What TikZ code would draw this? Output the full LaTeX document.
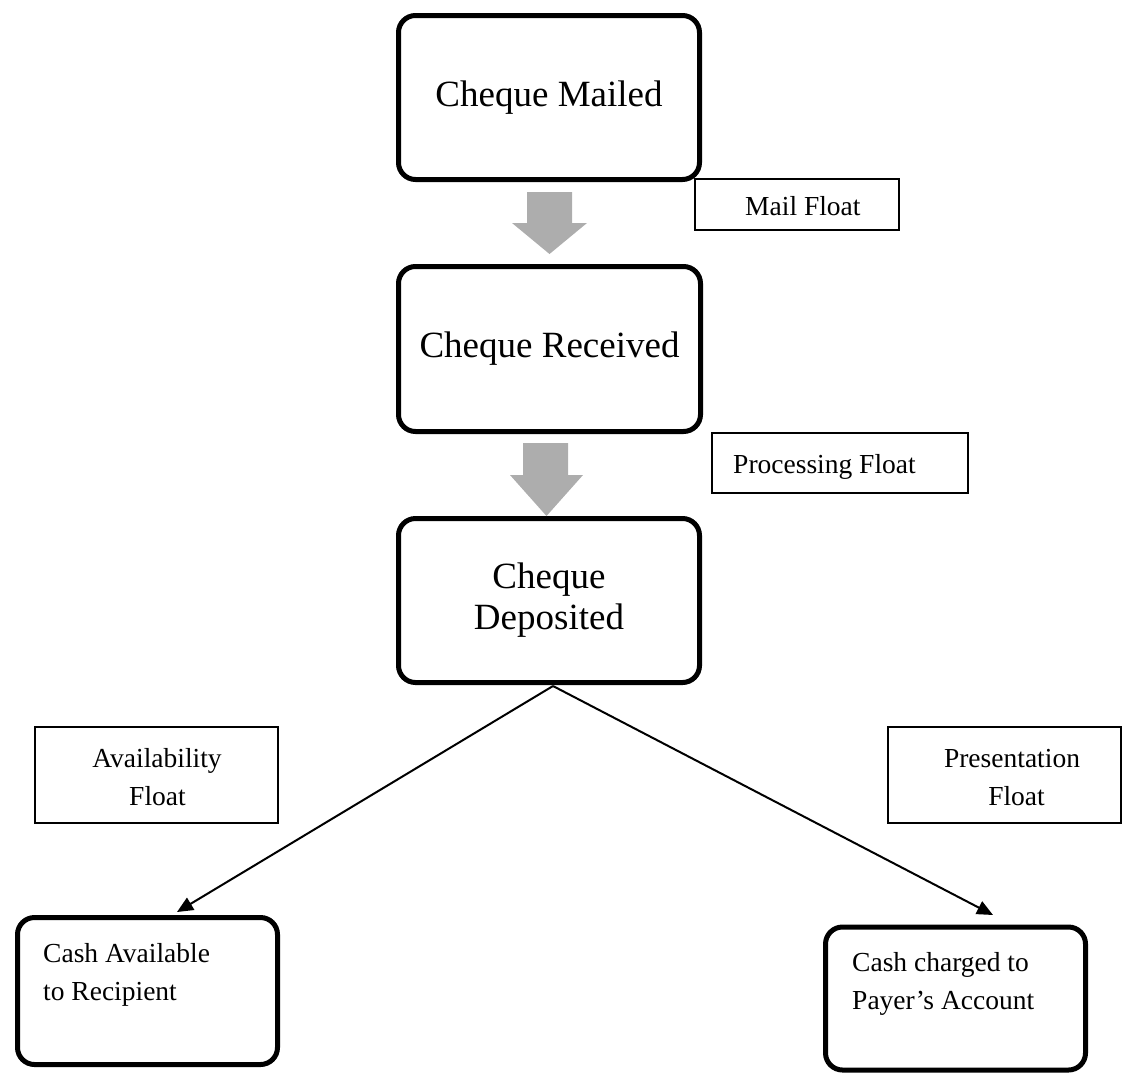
\documentclass[tikz,border=0pt]{standalone}
\usepackage{fontspec}
\setmainfont{Liberation Serif}
\usetikzlibrary{arrows.meta}
\newcommand\bigtxt{\fontsize{37}{40}\selectfont}
\newcommand\smalltxt{\fontsize{27.5}{38}\selectfont}
\begin{document}
\begin{tikzpicture}[x=1pt,y=-1pt,
  stepbox/.style={draw, line width=5pt, rounded corners=17pt, inner sep=0pt, font=\bigtxt, align=center},
  labelbox/.style={draw, line width=1.4pt, inner sep=0pt},
  txt/.style={inner sep=0pt, font=\smalltxt},
  conn/.style={line width=2pt, -{Triangle[length=16pt,width=14pt]}},
  blockarrow/.style={fill=black!32}]
\useasboundingbox (0,0) rectangle (1123,1074);
\clip (0,0) rectangle (1123,1074);

% main steps
\node[stepbox, minimum width=301pt, minimum height=164pt] (mailed) at (549,97.5) {Cheque Mailed};
\node[stepbox, minimum width=302pt, minimum height=165pt] (received) at (549.5,349) {Cheque Received};
\node[stepbox, minimum width=301pt, minimum height=164pt] (deposited) at (549,600.5) {\raisebox{0pt}{Cheque}\\[1pt]Deposited};
\node[stepbox, minimum width=260pt, minimum height=147pt] (cashavail) at (147.5,991) {};
\node[stepbox, minimum width=260pt, minimum height=143pt] (cashchg) at (955.5,998.5) {};

% texts of bottom boxes
\node[txt, anchor=base west] (ca1) at (43,962) {Cash Available};
\node[txt, anchor=base west] (ca2) at (43,1000) {to Recipient};
\node[txt, anchor=base west] (cc1) at (852,971) {Cash charged to};
\node[txt, anchor=base west] (cc2) at (852,1009) {Payer’s Account};

% float labels
\node[labelbox, minimum width=204pt, minimum height=51pt] (mailf) at (797,204.5) {};
\node[txt, anchor=base west] (mailft) at (745,215) {Mail Float};
\node[labelbox, minimum width=256pt, minimum height=60pt] (procf) at (840,463) {};
\node[txt, anchor=base west] (procft) at (733,473) {Processing Float};
\node[labelbox, minimum width=243pt, minimum height=96pt] (availf) at (156.5,775) {};
\node[txt, anchor=base] (availft1) at (157,767) {Availability};
\node[txt, anchor=base] (availft2) at (157.5,805) {Float};
\node[labelbox, minimum width=233pt, minimum height=96pt] (presf) at (1004.5,775) {};
\node[txt, anchor=base] (presft1) at (1012,767) {Presentation};
\node[txt, anchor=base] (presft2) at (1016.5,805) {Float};

% gray block arrows
\fill[blockarrow] (527,192) -- (572,192) -- (572,223) -- (587,223) -- (549.5,254) -- (512,223) -- (527,223) -- cycle;
\fill[blockarrow] (523,443) -- (568,443) -- (568,475) -- (583,475) -- (546.5,516) -- (510,475) -- (523,475) -- cycle;

% connectors
\coordinate (split) at (553,686);
\coordinate (ltip) at (177,912);
\coordinate (rtip) at (993,915);
\draw[conn] (split) -- (ltip);
\draw[conn] (split) -- (rtip);
\end{tikzpicture}
\end{document}
